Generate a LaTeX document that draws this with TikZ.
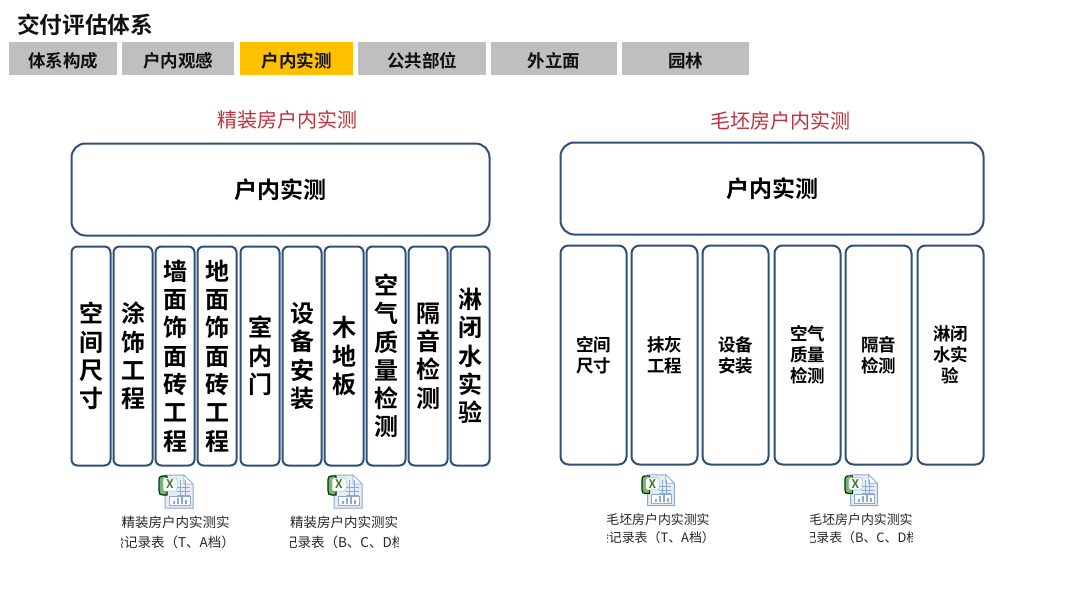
\documentclass[tikz,border=0pt]{standalone}
\usepackage{fontspec}
\setmainfont{Noto Sans CJK SC}[BoldFont={Noto Sans CJK SC Bold}]
\definecolor{tabgrey}{HTML}{BFBFBF}
\definecolor{tabamber}{HTML}{FFC000}
\definecolor{boxline}{HTML}{2F5078}
\definecolor{titlered}{HTML}{C0303A}
\definecolor{inkdark}{HTML}{111111}
\definecolor{iconline}{HTML}{8FA9CC}
\definecolor{iconfill}{HTML}{E4EDF8}
\definecolor{icongreen}{HTML}{4E9A4A}
\tikzset{
  x=1pt,y=-1pt,
  tabbox/.style={fill=tabgrey,draw=none,inner sep=0pt,text height=19pt,text depth=2pt,font=\fontsize{17.5}{20}\selectfont\bfseries,text=inkdark},
  tabon/.style={tabbox,fill=tabamber},
  redhead/.style={text=titlered,inner sep=0pt,font=\fontsize{20}{24}\selectfont},
  bigbox/.style={draw=boxline,line width=2pt,fill=white,rounded corners=14pt,inner sep=0pt,font=\fontsize{23}{26}\selectfont\bfseries,text=black},
  colbig/.style={draw=boxline,line width=2pt,fill=white,rounded corners=6pt,inner sep=0pt,align=center,font=\fontsize{24}{28.3}\selectfont\bfseries,text=black},
  colsmall/.style={draw=boxline,line width=2pt,fill=white,rounded corners=8pt,inner sep=0pt,align=center,font=\fontsize{17.5}{21}\selectfont\bfseries,text=black},
  filetext/.style={inner sep=0pt,text=black!85,font=\fontsize{13.5}{15}\selectfont},
  filetextb/.style={inner sep=0pt,text=black!85,font=\fontsize{12.9}{15}\selectfont},
  xlsicon/.pic={
    % page with folded corner, 34 x 34 box, origin top-left
    \path[draw=iconline,line width=1pt,fill=iconfill] (6,1) -- (25,1) -- (34,10) -- (34,34) -- (6,34) -- cycle;
    \path[draw=iconline,line width=0.7pt,fill=white] (25,1) -- (25,10) -- (34,10) -- cycle;
    \foreach \yy in {13,17,21} {\path[draw=iconline,line width=0.5pt] (18,\yy) -- (31,\yy);}
    \foreach \xx in {21,26} {\path[draw=iconline,line width=0.5pt] (\xx,6) -- (\xx,21);}
    \path[draw=iconline,line width=0.6pt,fill=white] (10,22) rectangle (31,31);
    \foreach \xx/\hh in {14/3,18/6,22/7,26/4} {\path[fill=iconline] (\xx,30) rectangle (\xx+2,30-\hh);}
    \path[draw=black!80!green,line width=1.2pt,fill=icongreen!75] (8,2) -- (3,2) .. controls (0.5,2) and (0,4) .. (0,6) -- (0,17) .. controls (0,20) and (1,21) .. (4,21) -- (8,21) -- (8,2);
    \path[fill=white,draw=icongreen!60,line width=0.5pt,rounded corners=2pt] (4,4) rectangle (18,17);
    \node[inner sep=0pt,text=icongreen!80!black,font=\fontsize{12}{12}\selectfont\bfseries] at (11,10.5) {X};
  }
}
\begin{document}
\begin{tikzpicture}
\useasboundingbox[fill=white] (0,0) rectangle (1080,608);
\node[anchor=west,inner sep=0pt,text=inkdark,font=\fontsize{22.7}{26}\selectfont\bfseries] (title) at (17,25) {交付评估体系};
% tabs
\node[tabbox,minimum width=108pt,minimum height=33pt] (t1) at (63,58.5) {体系构成};
\node[tabbox,minimum width=112pt,minimum height=33pt] (t2) at (178,58.5) {户内观感};
\node[tabon,minimum width=113pt,minimum height=33pt] (t3) at (296.5,58.5) {户内实测};
\node[tabbox,minimum width=128pt,minimum height=33pt] (t4) at (422,58.5) {公共部位};
\node[tabbox,minimum width=126pt,minimum height=33pt] (t5) at (554,58.5) {外立面};
\node[tabbox,minimum width=127pt,minimum height=33pt] (t6) at (685.5,58.5) {园林};
% headings
\node[redhead] (hl) at (287.5,119.5) {精装房户内实测};
\node[redhead] (hr) at (780.5,120.5) {毛坯房户内实测};
% big boxes
\node[bigbox,minimum width=418pt,minimum height=92pt] (bl) at (280.5,189.5) {户内实测};
\node[bigbox,minimum width=423pt,minimum height=92pt] (br) at (772,188.5) {户内实测};
% left columns
\foreach \nm/\cx/\txt in {
  a1/91/{空\\间\\尺\\寸},
  a2/133/{涂\\饰\\工\\程},
  a3/175/{墙\\面\\饰\\面\\砖\\工\\程},
  a4/217/{地\\面\\饰\\面\\砖\\工\\程},
  a5/260/{室\\内\\门},
  a6/302/{设\\备\\安\\装},
  a7/344/{木\\地\\板},
  a8/386/{空\\气\\质\\量\\检\\测},
  a9/428/{隔\\音\\检\\测},
  a10/470/{淋\\闭\\水\\实\\验}}
{\node[colbig,minimum width=39pt,minimum height=219pt] (\nm) at (\cx,356) {\txt};}
% right columns
\foreach \nm/\cx/\txt in {
  b1/593.5/{空间\\尺寸},
  b2/664.5/{抹灰\\工程},
  b3/735.5/{设备\\安装},
  b4/807.5/{空气\\质量\\检测},
  b5/878.5/{隔音\\检测},
  b6/950.5/{淋闭\\水实\\验}}
{\node[colsmall,minimum width=66pt,minimum height=219pt] (\nm) at (\cx,355) {\txt};}
% file icons
\pic at (159,474) {xlsicon};
\pic at (328,474) {xlsicon};
\pic[yscale=0.93,xscale=0.95] at (642,474) {xlsicon};
\pic[yscale=0.93,xscale=0.95] at (845,474) {xlsicon};
% file labels
\node[filetext] (f1a) at (175.5,522) {精装房户内实测实};
\begin{scope}
\clip (121,530) rectangle (231,552);
\node[filetext,anchor=east] (f1b) at (235,542) {验记录表（T、A档）};
\end{scope}
\node[filetext] (f2a) at (344,522) {精装房户内实测实};
\begin{scope}
\clip (290,530) rectangle (398,552);
\node[filetext,anchor=center] (f2b) at (338,542) {实验记录表（B、C、D档）};
\end{scope}
\node[filetextb] (f3a) at (658,520) {毛坯房户内实测实};
\begin{scope}
\clip (607,528) rectangle (710,548);
\node[filetextb,anchor=east] (f3b) at (715,538) {验记录表（T、A档）};
\end{scope}
\node[filetextb] (f4a) at (861,520) {毛坯房户内实测实};
\begin{scope}
\clip (810,528) rectangle (912,548);
\node[filetextb,anchor=center] (f4b) at (855,538) {实验记录表（B、C、D档）};
\end{scope}
\end{tikzpicture}
\end{document}
